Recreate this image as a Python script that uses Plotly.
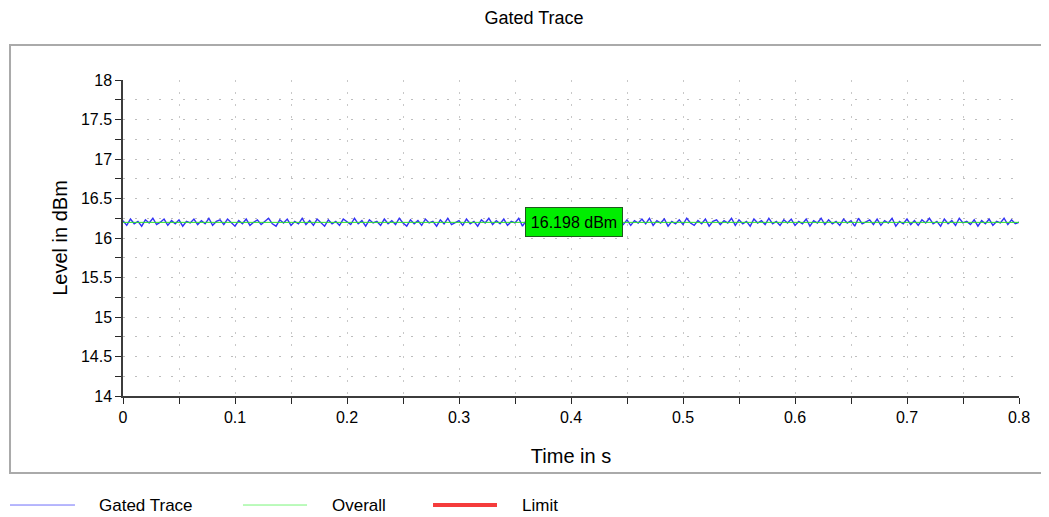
import numpy as np
import plotly.graph_objects as go

gated_level = [
    16.22,16.16,16.24,16.18,16.21,16.15,16.23,16.19,16.25,16.17,16.20,16.24,16.16,16.22,16.18,16.23,16.15,16.21,16.19,16.24,
    16.17,16.22,16.18,16.25,16.16,16.21,16.23,16.17,16.24,16.19,16.15,16.22,16.18,16.24,16.16,16.20,16.23,16.17,16.21,16.25,
    16.18,16.15,16.23,16.19,16.24,16.16,16.21,16.18,16.25,16.17,16.22,16.16,16.24,16.19,16.15,16.23,16.18,16.21,16.16,16.24,
    16.20,16.17,16.25,16.18,16.22,16.15,16.23,16.19,16.21,16.16,16.24,16.18,16.22,16.17,16.25,16.19,16.15,16.23,16.18,16.22,
    16.16,16.24,16.19,16.21,16.15,16.23,16.18,16.25,16.17,16.20,16.22,16.16,16.24,16.18,16.21,16.15,16.23,16.19,16.25,16.17,
    16.22,16.18,16.24,16.16,16.21,16.19,16.25,16.15,16.22,16.18,16.23,16.17,16.20,16.24,16.16,16.22,16.19,16.25,16.17,16.21,
    16.15,16.23,16.18,16.24,16.17,16.21,16.16,16.25,16.19,16.22,16.15,16.24,16.18,16.21,16.17,16.23,16.16,16.22,16.19,16.24,
    16.18,16.25,16.16,16.22,16.19,16.24,16.15,16.21,16.18,16.23,16.17,16.25,16.19,16.16,16.22,16.18,16.24,16.15,16.21,16.23,
    16.17,16.22,16.19,16.25,16.16,16.23,16.18,16.21,16.15,16.24,16.19,16.22,16.17,16.25,16.18,16.21,16.16,16.23,16.19,16.24,
    16.16,16.21,16.18,16.24,16.15,16.22,16.19,16.25,16.17,16.23,16.18,16.21,16.16,16.24,16.19,16.22,16.15,16.25,16.18,16.21,
    16.23,16.17,16.24,16.16,16.22,16.19,16.25,16.15,16.21,16.18,16.24,16.17,16.22,16.16,16.23,16.19,16.25,16.18,16.21,16.15,
    16.24,16.18,16.22,16.16,16.25,16.19,16.21,16.17,16.23,16.15,16.22,16.18,16.24,16.16,16.21,16.19,16.25,16.17,16.23,16.18,
    16.20,
]
t_start, t_end = 0.0, 0.8
overall_level = 16.198
overall_label = "16.198 dBm"
legend_names = ["Gated Trace", "Overall", "Limit"]
x_ticks = [0, 0.1, 0.2, 0.3, 0.4, 0.5, 0.6, 0.7, 0.8]
y_ticks = [14, 14.5, 15, 15.5, 16, 16.5, 17, 17.5, 18]

time = np.linspace(t_start, t_end, len(gated_level))

FONT = "Liberation Sans, Arial, sans-serif"

fig = go.Figure()
fig.add_trace(go.Scatter(x=time, y=gated_level, mode="lines",
                         line=dict(color="rgb(50,50,245)", width=1.4),
                         name=legend_names[0], showlegend=False))
fig.add_trace(go.Scatter(x=[t_start, t_end], y=[overall_level, overall_level], mode="lines",
                         line=dict(color="rgb(40,225,40)", width=1),
                         name=legend_names[1], showlegend=False))

fig.add_annotation(x=(t_start + t_end) / 2 + 0.003, y=overall_level, xref="x", yref="y",
                   text=overall_label, showarrow=False,
                   font=dict(family=FONT, size=16, color="black"),
                   bgcolor="rgb(0,238,0)", bordercolor="rgb(30,90,30)", borderwidth=1,
                   borderpad=3, width=90, height=22)

# outer frame
fig.add_shape(type="rect", xref="paper", yref="paper",
              x0=-0.1261, x1=1.0301, y0=-0.2437, y1=1.1108,
              line=dict(color="rgb(170,170,170)", width=2), layer="below")

# manual legend below the frame
leg_y = -0.345
leg_items = [
    (legend_names[0], "rgb(110,110,250)", 1, -0.1261, -0.0536, -0.0290),
    (legend_names[1], "rgb(120,245,120)", 1, 0.1339, 0.2054, 0.2310),
    (legend_names[2], "rgb(245,60,60)", 4, 0.3460, 0.4174, 0.4430),
]
for name, col, w, x0, x1, tx in leg_items:
    fig.add_shape(type="line", xref="paper", yref="paper", x0=x0, x1=x1, y0=leg_y, y1=leg_y,
                  line=dict(color=col, width=w))
    fig.add_annotation(xref="paper", yref="paper", x=tx, y=leg_y, text=name, showarrow=False,
                       xanchor="left", yanchor="middle",
                       font=dict(family=FONT, size=17, color="black"))

# page body adds an 8px offset at top/left, so the figure is 8px smaller
fig.update_layout(
    width=1041, height=509,
    margin=dict(l=115, r=30, t=72, b=121),
    paper_bgcolor="white", plot_bgcolor="white",
    showlegend=False,
    title=dict(text="Gated Trace", x=0.4587, xref="paper", xanchor="center",
               y=1.0, yref="container", yanchor="top", pad=dict(t=3),
               font=dict(family=FONT, size=18, color="black")),
    font=dict(family=FONT, size=16, color="black"),
)
fig.update_xaxes(
    range=[t_start, t_end], tickvals=x_ticks, ticktext=[f"{v:g}" for v in x_ticks],
    showline=True, linecolor="rgb(60,60,60)", linewidth=1.5,
    ticks="outside", ticklen=6, tickcolor="rgb(40,40,40)",
    minor=dict(dtick=0.05, ticks="outside", ticklen=6, tickcolor="rgb(40,40,40)",
               showgrid=True, gridcolor="rgb(200,200,200)", griddash="2px,10px", gridwidth=1),
    showgrid=True, gridcolor="rgb(200,200,200)", griddash="2px,10px", gridwidth=1,
    zeroline=False,
    title=dict(text="Time in s", font=dict(family=FONT, size=20), standoff=24),
    tickfont=dict(family=FONT, size=16),
)
fig.update_yaxes(
    range=[14, 18], tickvals=y_ticks, ticktext=[f"{v:g}" for v in y_ticks],
    showline=True, linecolor="rgb(60,60,60)", linewidth=1.5,
    ticks="outside", ticklen=6, tickcolor="rgb(40,40,40)",
    minor=dict(dtick=0.25, ticks="outside", ticklen=6, tickcolor="rgb(40,40,40)",
               showgrid=True, gridcolor="rgb(190,190,190)", griddash="2px,10px", gridwidth=1),
    showgrid=True, gridcolor="rgb(190,190,190)", griddash="2px,10px", gridwidth=1,
    zeroline=False,
    title=dict(text="Level in dBm", font=dict(family=FONT, size=20), standoff=8),
    tickfont=dict(family=FONT, size=16),
)

fig.write_html("out.html")
